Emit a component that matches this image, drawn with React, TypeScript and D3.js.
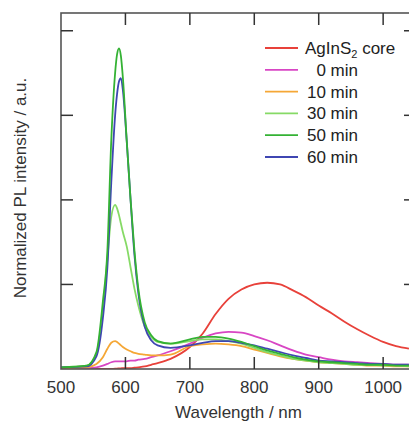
import React from "react";
import * as d3 from "d3";

const wavelengths = [500, 540, 555, 565, 572, 578, 584, 587, 590, 593, 596, 602, 608, 614, 620, 630, 640, 650, 670, 700, 720, 740, 760, 780, 800, 820, 840, 860, 880, 900, 920, 940, 960, 980, 1000, 1020, 1040];

const core = [0, 0, 0, 0, 0, 0, 0.005, 0.005, 0.008, 0.008, 0.01, 0.01, 0.01, 0.015, 0.02, 0.03, 0.05, 0.07, 0.12, 0.26, 0.42, 0.65, 0.83, 0.94, 1.0, 1.02, 1.0, 0.93, 0.85, 0.75, 0.66, 0.56, 0.47, 0.39, 0.32, 0.27, 0.24];
const min0 = [0.01, 0.01, 0.02, 0.04, 0.06, 0.08, 0.09, 0.09, 0.09, 0.09, 0.09, 0.09, 0.1, 0.1, 0.11, 0.12, 0.14, 0.16, 0.21, 0.3, 0.37, 0.42, 0.44, 0.43, 0.39, 0.34, 0.28, 0.22, 0.17, 0.14, 0.11, 0.09, 0.08, 0.07, 0.06, 0.05, 0.05];
const min10 = [0.01, 0.02, 0.06, 0.14, 0.24, 0.31, 0.33, 0.32, 0.3, 0.28, 0.26, 0.23, 0.21, 0.19, 0.18, 0.17, 0.16, 0.16, 0.17, 0.27, 0.29, 0.3, 0.29, 0.27, 0.23, 0.19, 0.15, 0.12, 0.1, 0.08, 0.07, 0.06, 0.05, 0.04, 0.04, 0.03, 0.03];
const min30 = [0.02, 0.04, 0.18, 0.7, 1.3, 1.8, 1.94, 1.9, 1.82, 1.72, 1.62, 1.45, 1.2, 0.95, 0.75, 0.5, 0.38, 0.32, 0.3, 0.33, 0.35, 0.35, 0.33, 0.3, 0.25, 0.2, 0.16, 0.12, 0.1, 0.08, 0.07, 0.06, 0.05, 0.05, 0.04, 0.04, 0.03];
const min50 = [0.02, 0.04, 0.2, 0.8, 1.4, 2.7, 3.5, 3.72, 3.79, 3.7, 3.45, 2.7, 2.0, 1.4, 0.95, 0.55, 0.4, 0.33, 0.3, 0.35, 0.38, 0.38, 0.36, 0.32, 0.27, 0.22, 0.18, 0.14, 0.11, 0.09, 0.08, 0.07, 0.06, 0.05, 0.05, 0.04, 0.04];
const min60 = [0.02, 0.03, 0.15, 0.6, 1.2, 2.2, 3.0, 3.25, 3.4, 3.44, 3.3, 2.7, 2.0, 1.35, 0.9, 0.5, 0.34, 0.28, 0.25, 0.28, 0.31, 0.33, 0.33, 0.31, 0.28, 0.24, 0.2, 0.16, 0.13, 0.1, 0.09, 0.08, 0.07, 0.06, 0.06, 0.05, 0.05];

const seriesNames = ["AgInS2 core", "0 min", "10 min", "30 min", "50 min", "60 min"];
const seriesColors = ["#e8413a", "#d846c4", "#f5a736", "#86da66", "#34b234", "#3f46b2"];
const seriesValues = [core, min0, min10, min30, min50, min60];
const drawOrder = [0, 1, 2, 3, 5, 4];

const xTicks = [500, 600, 700, 800, 900, 1000];
const yTicks = [1, 2, 3, 4];

const W = 409;
const H = 425;
const left = 61;
const right = 416;
const top = 13;
const bottom = 369;

export default function App() {
  const x = d3.scaleLinear().domain([500, 1051]).range([left, right]);
  const y = d3.scaleLinear().domain([0, 4.21]).range([bottom, top]);
  const line = d3
    .line<number>()
    .x((_, i) => x(wavelengths[i]))
    .y((d) => y(d))
    .curve(d3.curveMonotoneX);

  const font = "'Liberation Sans', Arial, Helvetica, sans-serif";
  const tickLen = 12;

  return (
    <svg
      width={W}
      height={H}
      style={{ position: "absolute", left: 0, top: 0, background: "#fff" }}
      fontFamily={font}
    >
      <defs>
        <clipPath id="plot">
          <rect x={left} y={top} width={right - left} height={bottom - top} />
        </clipPath>
      </defs>
      <g clipPath="url(#plot)">
        {drawOrder.map((si) => (
          <path
            key={si}
            d={line(seriesValues[si]) || ""}
            fill="none"
            stroke={seriesColors[si]}
            strokeWidth={1.8}
            strokeLinejoin="round"
          />
        ))}
      </g>
      <rect x={left} y={top} width={right - left} height={bottom - top} fill="none" stroke="#555" strokeWidth={1.6} />
      {xTicks.map((t) => (
        <g key={t}>
          {t !== 500 && (
            <>
              <line x1={x(t)} x2={x(t)} y1={bottom} y2={bottom - tickLen} stroke="#333" strokeWidth={1.5} />
              <line x1={x(t)} x2={x(t)} y1={top} y2={top + tickLen} stroke="#333" strokeWidth={1.5} />
            </>
          )}
          <text x={x(t)} y={393} textAnchor="middle" fontSize={17} fill="#333">
            {t}
          </text>
        </g>
      ))}
      {yTicks.map((t) => (
        <g key={t}>
          <line x1={left} x2={left + tickLen} y1={y(t)} y2={y(t)} stroke="#333" strokeWidth={1.5} />
          <line x1={right} x2={right - tickLen} y1={y(t)} y2={y(t)} stroke="#333" strokeWidth={1.5} />
        </g>
      ))}
      <text x={(left + right) / 2} y={418} textAnchor="middle" fontSize={17} fill="#333">
        Wavelength / nm
      </text>
      <text
        transform={`translate(26, 188) rotate(-90)`}
        textAnchor="middle"
        fontSize={17}
        fill="#333"
      >
        Normalized PL intensity / a.u.
      </text>
      {seriesNames.map((name, i) => {
        const ly = 48 + i * 21.8;
        return (
          <g key={name}>
            <line x1={265} x2={298} y1={ly} y2={ly} stroke={seriesColors[i]} strokeWidth={1.8} />
            {i === 0 ? (
              <text x={305} y={ly + 6} fontSize={17} fill="#222">
                AgInS
                <tspan fontSize={11} dy={4}>2</tspan>
                <tspan dy={-4}> core</tspan>
              </text>
            ) : (
              <text x={358} y={ly + 6} fontSize={17} fill="#222" textAnchor="end">
                {name}
              </text>
            )}
          </g>
        );
      })}
    </svg>
  );
}
